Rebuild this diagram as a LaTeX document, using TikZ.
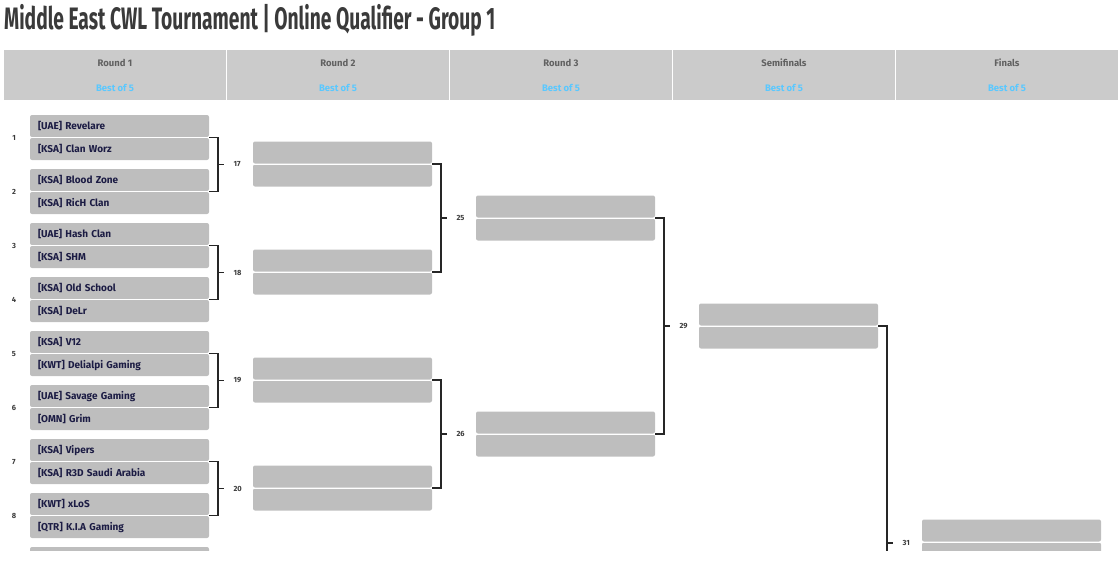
\documentclass[tikz,border=0pt]{standalone}
\usepackage{fontspec}
\setmainfont{Fira Sans}
\usetikzlibrary{positioning}
\definecolor{slotgray}{HTML}{BEBEBE}
\definecolor{headgray}{HTML}{CBCBCB}
\definecolor{teamnavy}{HTML}{1C1C44}
\definecolor{bestblue}{HTML}{5AC8FF}
\definecolor{titlegray}{HTML}{3A3A3A}
\tikzstyle{slot} = [rectangle, fill=slotgray, rounded corners=2pt, minimum width=179pt, minimum height=22pt, inner xsep=8pt, text width=163pt, align=left, font=\fontsize{10}{12}\selectfont\bfseries, text=teamnavy]
\tikzstyle{head} = [rectangle, fill=headgray, minimum width=222pt, minimum height=50pt, anchor=north west, inner sep=0pt]
\tikzstyle{seed} = [font=\fontsize{7.5}{8}\selectfont\bfseries, text=titlegray]
\tikzstyle{bracket} = [line width=1.5pt, black!85]
\begin{document}
\begin{tikzpicture}[x=1pt, y=-1pt]
		\useasboundingbox (0,0) rectangle (1118,568);
		\node (Title) [anchor=west, text=titlegray, inner sep=0pt] at (4,20) {\scalebox{0.62}[1]{\fontsize{31}{34}\selectfont\bfseries Middle East CWL Tournament | Online Qualifier - Group 1}};
		
		% header bar
		\foreach \name [count=\i from 0] in {Round 1, Round 2, Round 3, Semifinals, Finals} {
			\node (Head\i) [head] at (4+223*\i,50) {};
			\node [font=\fontsize{9.5}{11}\selectfont\bfseries, text=titlegray!80] at (115+223*\i,63) {\name};
			\node [font=\fontsize{9.5}{11}\selectfont\bfseries, text=bestblue] at (115+223*\i,88) {Best of 5};
		}
		
		\begin{scope}
		\clip (0,100) rectangle (1118,550);
		% round 1
		\foreach \team [count=\i from 0] in {[UAE] Revelare, [KSA] Clan Worz, [KSA] Blood Zone, [KSA] RicH Clan, [UAE] Hash Clan, [KSA] SHM, [KSA] Old School, [KSA] DeLr, [KSA] V12, [KWT] Delialpi Gaming, [UAE] Savage Gaming, [OMN] Grim, [KSA] Vipers, [KSA] R3D Saudi Arabia, [KWT] xLoS, [QTR] K.I.A Gaming, {}} {
			\pgfmathtruncatemacro{\m}{int(\i/2)}
			\pgfmathsetmacro{\yy}{126+54*\m+23*mod(\i,2)}
			\node (Team\i) [slot] at (119.5,\yy) {\team};
		}
		\foreach \m in {0,...,7} {
			\draw [white, line width=1pt] (30,137.5+54*\m) -- (209,137.5+54*\m);
			\pgfmathtruncatemacro{\s}{\m+1}
			\node [seed] at (14,138+54*\m) {\s};
		}
		% later rounds
		\foreach \col/\yc in {1/164, 1/272, 1/380, 1/488, 2/218, 2/434, 3/326, 4/542} {
			\node (Win\col-\yc a) [slot] at (119.5+223*\col,\yc-11.5) {};
			\node (Win\col-\yc b) [slot] at (119.5+223*\col,\yc+11.5) {};
			\draw [white, line width=1pt] (30+223*\col,\yc) -- (209+223*\col,\yc);
		}
		% brackets
		\foreach \col/\ya/\yb/\num in {0/137.5/191.5/17, 0/245.5/299.5/18, 0/353.5/407.5/19, 0/461.5/515.5/20, 1/164/272/25, 1/380/488/26, 2/218/434/29, 3/326/758/31} {
			\pgfmathsetmacro{\ym}{\ifnum\col=3 543\else (\ya+\yb)/2\fi}
			\draw [bracket] (209+223*\col,\ya) -| (218+223*\col,\yb) -- (209+223*\col,\yb);
			\draw [bracket] (218+223*\col,\ym) -- (224+223*\col,\ym);
			\node [seed, anchor=west] at (230+223*\col,\ym) {\num};
		}
		\end{scope}
		\end{tikzpicture}
\end{document}
